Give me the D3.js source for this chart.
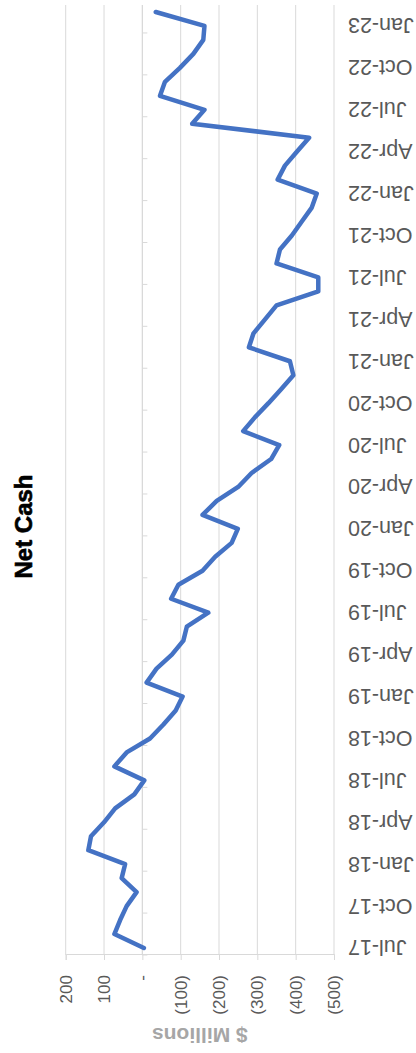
<!DOCTYPE html>
<html>
<head>
<meta charset="utf-8">
<script src="https://cdn.jsdelivr.net/npm/d3@7"></script>
<style>
  html, body { margin: 0; padding: 0; background: #fff; }
  svg { display: block; }
</style>
</head>
<body>
<svg id="chart" width="416" height="1053"></svg>
<script>
// Monthly net cash position, $ millions
const months = [
  "Jul-17","Aug-17","Sep-17","Oct-17","Nov-17","Dec-17",
  "Jan-18","Feb-18","Mar-18","Apr-18","May-18","Jun-18","Jul-18","Aug-18","Sep-18","Oct-18","Nov-18","Dec-18",
  "Jan-19","Feb-19","Mar-19","Apr-19","May-19","Jun-19","Jul-19","Aug-19","Sep-19","Oct-19","Nov-19","Dec-19",
  "Jan-20","Feb-20","Mar-20","Apr-20","May-20","Jun-20","Jul-20","Aug-20","Sep-20","Oct-20","Nov-20","Dec-20",
  "Jan-21","Feb-21","Mar-21","Apr-21","May-21","Jun-21","Jul-21","Aug-21","Sep-21","Oct-21","Nov-21","Dec-21",
  "Jan-22","Feb-22","Mar-22","Apr-22","May-22","Jun-22","Jul-22","Aug-22","Sep-22","Oct-22","Nov-22","Dec-22",
  "Jan-23","Feb-23"
];
const netCash = [
  -4, 73, 58, 41, 15, 54,
  45, 141, 134, 100, 71, 21, -5, 73, 41, -20, -55, -87,
  -105, -11, -37, -77, -107, -116, -172, -75, -94, -157, -190, -233,
  -249, -157, -194, -250, -285, -336, -357, -263, -294, -329, -362, -394,
  -385, -278, -290, -320, -350, -459, -459, -350, -359, -390, -416, -442,
  -455, -353, -372, -403, -435, -130, -162, -46, -59, -98, -133, -159,
  -162, -35
];
const valueTicks = [200, 100, 0, -100, -200, -300, -400, -500];
const labelEvery = 3;
const chartTitle = "Net Cash";
const valueAxisTitle = "$ Millions";

// The chart is laid out landscape (W x H) and turned a quarter-turn
// counter-clockwise to fill the portrait page.
const W = 1053, H = 416;
const plot = { left: 98, right: 1048, top: 65.7, bottom: 334 };

const svg = d3.select("#chart");
const g = svg.append("g").attr("transform", `translate(0,${W}) rotate(-90)`);

const x = d3.scaleBand().domain(months).range([plot.left, plot.right]).padding(0);
const y = d3.scaleLinear().domain([-500, 200]).range([plot.bottom, plot.top]);
const cx = m => x(m) + x.bandwidth() / 2;

const fmt = v => v === 0 ? "-" : v < 0 ? `(${Math.abs(v)})` : String(v);

// horizontal gridlines
g.append("g").selectAll("line")
  .data(valueTicks)
  .join("line")
  .attr("x1", plot.left).attr("x2", plot.right)
  .attr("y1", d => y(d)).attr("y2", d => y(d))
  .attr("stroke", "#d9d9d9").attr("stroke-width", 1);

// value axis
const yAxis = g.append("g")
  .attr("transform", `translate(${plot.left},0)`)
  .call(d3.axisLeft(y).tickValues(valueTicks).tickSize(5).tickPadding(15).tickFormat(fmt));
yAxis.select(".domain").attr("stroke", "#d9d9d9");
yAxis.selectAll(".tick line").attr("stroke", "#d9d9d9");
yAxis.selectAll("text")
  .attr("fill", "#595959")
  .attr("font-family", "'Liberation Sans', Arial, sans-serif")
  .attr("font-size", 17);

// category axis at zero, ticks between categories every third month
const catAxis = g.append("g");
catAxis.append("line")
  .attr("x1", plot.left).attr("x2", plot.right)
  .attr("y1", y(0)).attr("y2", y(0))
  .attr("stroke", "#d9d9d9");
const tickMonths = months.filter((m, i) => i % labelEvery === 0);
catAxis.selectAll(".ctick")
  .data(tickMonths)
  .join("line")
  .attr("class", "ctick")
  .attr("x1", d => x(d)).attr("x2", d => x(d))
  .attr("y1", y(0)).attr("y2", y(0) + 5)
  .attr("stroke", "#d9d9d9");

// month labels, placed below the plot
const labelY = 348;
g.append("g").selectAll("text")
  .data(tickMonths)
  .join("text")
  .attr("transform", d => `translate(${cx(d)},${labelY}) rotate(-90)`)
  .attr("text-anchor", "end")
  .attr("dy", "0.35em")
  .attr("fill", "#595959")
  .attr("font-family", "'Liberation Sans', Arial, sans-serif")
  .attr("font-size", 21.5)
  .text(d => d);

// net cash line
const line = d3.line()
  .x((d, i) => cx(months[i]))
  .y(d => y(d));
g.append("path")
  .datum(netCash)
  .attr("d", line)
  .attr("fill", "none")
  .attr("stroke", "#4472c4")
  .attr("stroke-width", 4.5)
  .attr("stroke-linejoin", "round")
  .attr("stroke-linecap", "round");

// value axis title
g.append("text")
  .attr("transform", `translate(18,${(plot.top + plot.bottom) / 2}) rotate(-90)`)
  .attr("text-anchor", "middle")
  .attr("dy", "0.35em")
  .attr("fill", "#a6a6a6")
  .attr("font-family", "'Liberation Sans', Arial, sans-serif")
  .attr("font-weight", "bold")
  .attr("font-size", 21)
  .text(valueAxisTitle);

// chart title
g.append("text")
  .attr("x", W / 2)
  .attr("y", 32)
  .attr("text-anchor", "middle")
  .attr("fill", "#000")
  .attr("stroke", "#000")
  .attr("stroke-width", 0.6)
  .attr("font-family", "'Liberation Sans', Arial, sans-serif")
  .attr("font-weight", "bold")
  .attr("font-size", 24)
  .text(chartTitle);
</script>
</body>
</html>
